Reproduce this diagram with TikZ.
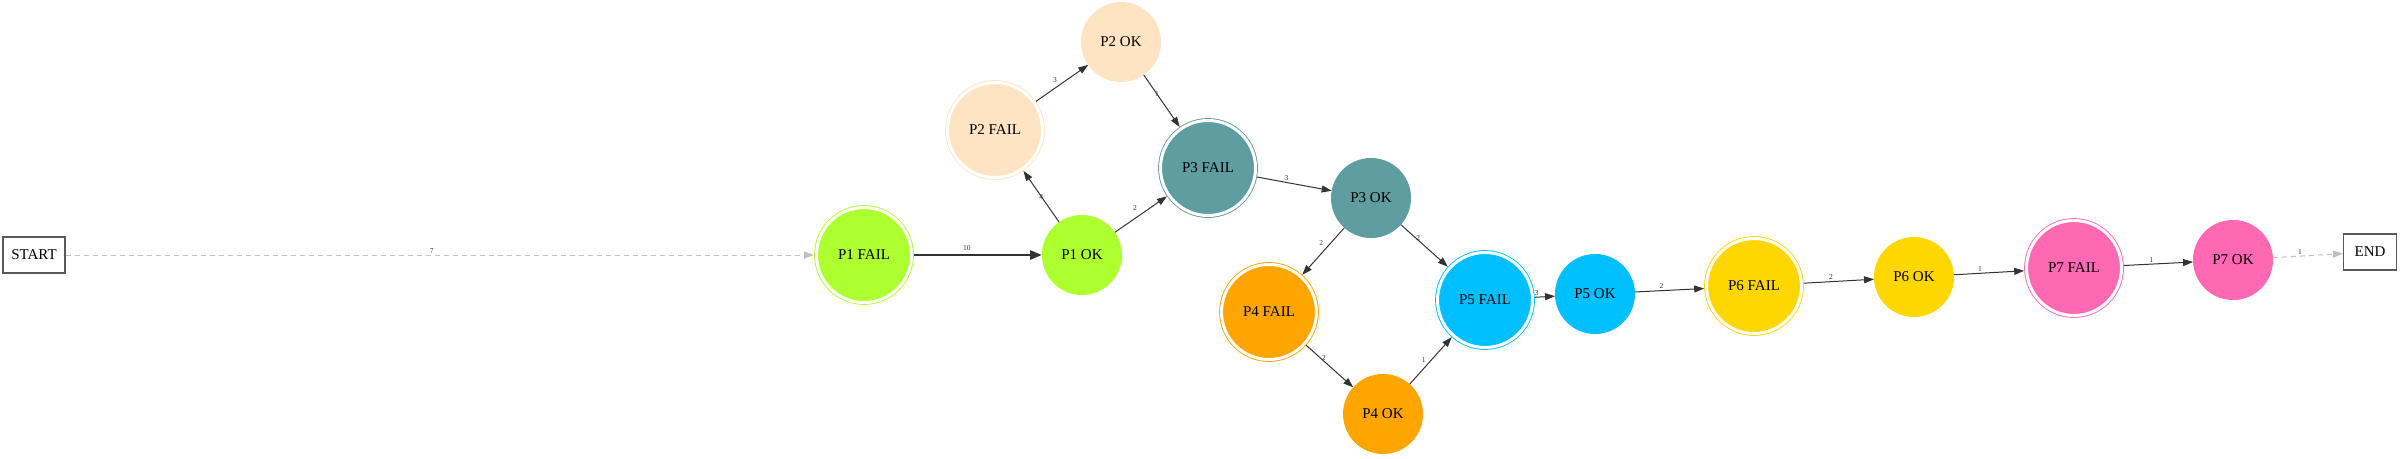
\documentclass[tikz,border=0pt]{standalone}
\usepackage{fontspec}
\setmainfont{Liberation Serif}
\usetikzlibrary{arrows.meta}
\definecolor{cPa}{HTML}{ADFF2F}
\definecolor{cPb}{HTML}{FFE4C4}
\definecolor{cPc}{HTML}{5F9EA0}
\definecolor{cPd}{HTML}{FFA500}
\definecolor{cPe}{HTML}{00BFFF}
\definecolor{cPf}{HTML}{FFD700}
\definecolor{cPg}{HTML}{FF69B4}
\definecolor{edgecol}{HTML}{333333}
\definecolor{dashcol}{HTML}{C0C0C0}
\begin{document}
\begin{tikzpicture}[x=1pt,y=-1pt,
  okn/.style={circle, fill=#1, draw=#1, line width=1pt, minimum size=79pt, inner sep=0pt, font=\fontsize{15}{18}\selectfont},
  failn/.style={circle, fill=#1, draw=#1, line width=0.9pt, double=white, double distance=3pt, minimum size=95pt, inner sep=0pt, outer sep=2.4pt, font=\fontsize{15}{18}\selectfont},
  boxn/.style={draw=black!65, line width=1.1pt, fill=white, minimum height=36pt, inner sep=0pt, font=\fontsize{15}{18}\selectfont},
  edge/.style={draw=edgecol, line width=1pt, -{Triangle[length=10pt,width=7pt]}},
  dedge/.style={draw=dashcol, line width=1pt, dash pattern=on 5pt off 4pt, -{Triangle[length=10pt,width=7pt]}},
  lbl/.style={font=\fontsize{7.5}{9}\selectfont, inner sep=1pt, text=edgecol}
]
\useasboundingbox (0,0) rectangle (2400,458);
% nodes
\node[boxn, minimum width=62pt] (start) at (34,255) {START};
\node[failn=cPa] (p1f) at (864,255) {P1 FAIL};
\node[okn=cPa] (p1o) at (1082,255) {P1 OK};
\node[failn=cPb] (p2f) at (995,130) {P2 FAIL};
\node[okn=cPb] (p2o) at (1121,42) {P2 OK};
\node[failn=cPc] (p3f) at (1208,168) {P3 FAIL};
\node[okn=cPc] (p3o) at (1371,198) {P3 OK};
\node[failn=cPd] (p4f) at (1269,312) {P4 FAIL};
\node[okn=cPd] (p4o) at (1383,414) {P4 OK};
\node[failn=cPe] (p5f) at (1485,300) {P5 FAIL};
\node[okn=cPe] (p5o) at (1595,294) {P5 OK};
\node[failn=cPf] (p6f) at (1754,286) {P6 FAIL};
\node[okn=cPf] (p6o) at (1914,277) {P6 OK};
\node[failn=cPg] (p7f) at (2074,268) {P7 FAIL};
\node[okn=cPg] (p7o) at (2233,260) {P7 OK};
\node[boxn, minimum width=53pt] (end) at (2370,252) {END};
% edges
\draw[dedge] (start) -- node[lbl, above, xshift=-8pt] (l1) {7} (p1f);
\draw[edge, line width=2.6pt, -{Triangle[length=12pt,width=9pt]}] (p1f) -- node[lbl, above=2pt, xshift=-11pt] (l2) {10} (p1o);
\draw[edge] (p1o) -- node[lbl, midway] (l3) {4} (p2f);
\draw[edge] (p2f) -- node[lbl, midway, xshift=-7pt, yshift=3pt] (l4) {3} (p2o);
\draw[edge] (p2o) -- node[lbl, pos=0.37] (l5) {1} (p3f);
\draw[edge] (p1o) -- node[lbl, midway, xshift=-6pt, yshift=6pt] (l6) {2} (p3f);
\draw[edge] (p3f) -- node[lbl, midway, xshift=-8pt, yshift=6pt] (l7) {3} (p3o);
\draw[edge] (p3o) -- node[lbl, midway, xshift=-2pt, yshift=8pt] (l8) {2} (p4f);
\draw[edge] (p3o) -- node[lbl, midway, xshift=-6pt, yshift=8pt] (l9) {2} (p5f);
\draw[edge] (p4f) -- node[lbl, midway, xshift=-6pt, yshift=8pt] (l10) {2} (p4o);
\draw[edge] (p4o) -- node[lbl, midway, xshift=-7pt, yshift=1pt] (l11) {1} (p5f);
\draw[edge] (p5f) -- node[lbl, pos=0.1, above] (l12) {3} (p5o);
\draw[edge] (p5o) -- node[lbl, above, xshift=-8pt] (l13) {2} (p6f);
\draw[edge] (p6f) -- node[lbl, above, xshift=-8pt] (l14) {2} (p6o);
\draw[edge] (p6o) -- node[lbl, above, xshift=-9pt] (l15) {1} (p7f);
\draw[edge] (p7f) -- node[lbl, above, xshift=-7pt] (l16) {1} (p7o);
\draw[dedge] (p7o) -- node[lbl, above, xshift=-8pt] (l17) {1} (end);
\end{tikzpicture}
\end{document}
